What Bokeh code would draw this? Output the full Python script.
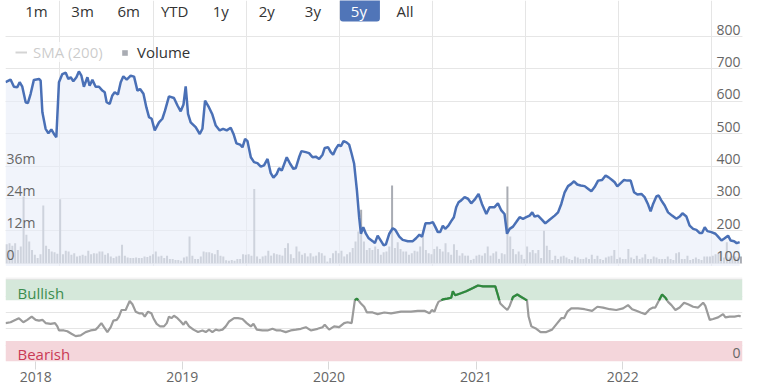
import numpy as np
import pandas as pd
from datetime import datetime
from bokeh.plotting import figure
from bokeh.layouts import column
from bokeh.models import (Range1d, FixedTicker, Label, BoxAnnotation, Legend,
                          LegendItem, Span, Grid)
from bokeh.core.properties import value
from bokeh.embed import file_html
from bokeh.resources import INLINE

FONT = "Open Sans"

# ---------------- data ----------------
# share price (decimal-year dates)
price_t = [2017.795, 2017.829, 2017.852, 2017.875, 2017.891, 2017.909, 2017.932, 2017.947, 2017.966, 2017.988,
           2018.023, 2018.034, 2018.046, 2018.068, 2018.087, 2018.107, 2018.125, 2018.141, 2018.159, 2018.182,
           2018.205, 2018.223, 2018.239, 2018.257, 2018.278, 2018.295, 2018.312, 2018.329, 2018.353, 2018.368,
           2018.387, 2018.409, 2018.432, 2018.455, 2018.471, 2018.484, 2018.505, 2018.523, 2018.539, 2018.561,
           2018.580, 2018.598, 2018.621, 2018.648, 2018.671, 2018.694, 2018.712, 2018.735, 2018.755, 2018.773,
           2018.791, 2018.812, 2018.841, 2018.864, 2018.882, 2018.909, 2018.943, 2018.967, 2018.989, 2019.008,
           2019.023, 2019.039, 2019.057, 2019.091, 2019.119, 2019.137, 2019.155, 2019.182, 2019.205, 2019.228,
           2019.255, 2019.278, 2019.303, 2019.330, 2019.349, 2019.369, 2019.394, 2019.410, 2019.428, 2019.444,
           2019.467, 2019.489, 2019.512, 2019.535, 2019.557, 2019.581, 2019.603, 2019.621, 2019.644, 2019.660,
           2019.678, 2019.712, 2019.735, 2019.758, 2019.774, 2019.796, 2019.812, 2019.842, 2019.864, 2019.888,
           2019.910, 2019.933, 2019.956, 2019.971, 2019.994, 2020.012, 2020.028, 2020.046, 2020.065, 2020.081,
           2020.099, 2020.119, 2020.137, 2020.154, 2020.171, 2020.190, 2020.205, 2020.217, 2020.233, 2020.251,
           2020.268, 2020.297, 2020.312, 2020.331, 2020.349, 2020.372, 2020.387, 2020.410, 2020.433, 2020.451,
           2020.478, 2020.501, 2020.536, 2020.570, 2020.592, 2020.615, 2020.633, 2020.656, 2020.683, 2020.706,
           2020.722, 2020.740, 2020.756, 2020.774, 2020.790, 2020.812, 2020.831, 2020.849, 2020.865, 2020.881,
           2020.899, 2020.922, 2020.945, 2020.967, 2020.990, 2021.017, 2021.040, 2021.070, 2021.092, 2021.126,
           2021.149, 2021.172, 2021.194, 2021.211, 2021.229, 2021.252, 2021.274, 2021.297, 2021.320, 2021.342,
           2021.365, 2021.383, 2021.399, 2021.422, 2021.450, 2021.472, 2021.501, 2021.536, 2021.559, 2021.581,
           2021.604, 2021.627, 2021.649, 2021.668, 2021.690, 2021.713, 2021.740, 2021.763, 2021.786, 2021.808,
           2021.832, 2021.859, 2021.883, 2021.904, 2021.927, 2021.945, 2021.963, 2021.986, 2022.009, 2022.031,
           2022.054, 2022.077, 2022.100, 2022.127, 2022.149, 2022.173, 2022.190, 2022.207, 2022.229, 2022.245,
           2022.263, 2022.286, 2022.309, 2022.336, 2022.366, 2022.388, 2022.407, 2022.434, 2022.456, 2022.480,
           2022.502, 2022.525, 2022.541, 2022.559, 2022.577, 2022.604, 2022.632, 2022.650, 2022.673, 2022.695,
           2022.718, 2022.736, 2022.759, 2022.777, 2022.797]
price = [659, 667, 645, 643, 659, 645, 597, 594, 623, 666,
         669, 664, 566, 515, 501, 513, 499, 489, 659, 684,
         688, 669, 674, 662, 674, 692, 679, 645, 674, 648,
         666, 645, 645, 633, 628, 597, 592, 618, 628, 621,
         659, 677, 667, 679, 676, 633, 638, 623, 581, 551,
         546, 510, 535, 546, 571, 615, 610, 587, 569, 590,
         646, 561, 535, 520, 499, 515, 602, 581, 559, 525,
         510, 515, 510, 518, 499, 470, 466, 458, 484, 477,
         427, 412, 409, 398, 402, 422, 378, 364, 376, 393,
         386, 427, 407, 391, 394, 427, 446, 443, 440, 427,
         429, 422, 435, 456, 458, 443, 435, 453, 466, 461,
         477, 473, 466, 438, 407, 324, 242, 191, 211, 191,
         178, 168, 162, 185, 172, 155, 158, 191, 208, 203,
         182, 172, 168, 168, 177, 188, 182, 223, 223, 227,
         213, 196, 196, 216, 206, 216, 230, 242, 273, 288,
         294, 304, 299, 285, 296, 314, 283, 252, 273, 273,
         285, 263, 252, 191, 206, 213, 227, 242, 237, 242,
         247, 257, 244, 247, 234, 223, 234, 247, 257, 283,
         319, 338, 345, 353, 343, 340, 338, 330, 322, 335,
         355, 357, 371, 365, 357, 350, 337, 347, 357, 355,
         355, 319, 312, 314, 304, 281, 260, 283, 306, 309,
         294, 278, 257, 247, 237, 244, 254, 244, 216, 206,
         203, 193, 193, 211, 199, 196, 191, 182, 170, 177,
         185, 170, 168, 162, 165]

# weekly volume (millions)
volume_start = "2017-10-21"
volume = [7.0, 7.4, 6.5, 7.4, 4.9, 6.2, 24.7, 10.5, 8.0, 4.9,
          3.1, 1.9, 3.3, 21.4, 6.5, 5.3, 4.3, 4.1, 3.5, 23.7,
          3.3, 4.6, 4.3, 3.1, 3.7, 2.5, 2.8, 3.1, 2.8, 4.6,
          3.3, 3.7, 3.6, 4.3, 4.3, 3.1, 3.7, 2.5, 1.9, 2.5,
          2.8, 6.8, 2.8, 2.1, 1.9, 1.9, 2.1, 1.9, 1.9, 2.5,
          2.3, 2.8, 3.3, 4.3, 2.5, 2.8, 1.9, 2.8, 1.6, 1.6,
          1.2, 1.2, 0.9, 2.1, 2.5, 9.9, 2.8, 1.6, 1.6, 2.5,
          4.3, 4.1, 4.1, 3.7, 3.3, 4.9, 2.8, 2.5, 1.1, 0.9,
          1.2, 0.9, 1.6, 1.6, 3.3, 3.1, 3.3, 2.8, 27.5, 2.5,
          1.6, 2.5, 2.8, 4.6, 2.8, 3.7, 3.3, 3.1, 2.8, 5.6,
          7.4, 3.3, 1.9, 6.2, 4.3, 3.1, 3.7, 2.5, 3.7, 2.5,
          2.8, 4.1, 3.7, 2.8, 0.6, 1.9, 3.7, 4.6, 3.7, 4.6,
          2.5, 3.3, 4.1, 5.6, 8.0, 11.7, 19.8, 8.0, 4.9, 5.6,
          4.9, 6.2, 5.3, 3.1, 4.1, 4.3, 6.2, 28.8, 5.6, 7.8,
          5.3, 4.3, 4.3, 3.1, 3.7, 4.6, 4.3, 6.2, 9.9, 4.9,
          3.7, 3.3, 5.3, 6.2, 5.3, 4.3, 7.4, 4.1, 3.1, 7.0,
          4.9, 2.8, 3.7, 2.8, 2.8, 1.2, 1.6, 2.8, 3.1, 2.8,
          3.7, 6.2, 2.8, 3.7, 4.3, 1.6, 3.7, 3.3, 28.4, 9.9,
          5.3, 3.3, 4.3, 3.1, 1.6, 6.2, 4.1, 4.9, 3.7, 4.9,
          1.9, 12.0, 6.5, 4.9, 1.2, 2.8, 1.6, 2.5, 2.8, 2.1,
          1.6, 1.2, 2.5, 2.1, 1.6, 1.6, 2.1, 1.6, 3.1, 1.6,
          2.8, 1.6, 1.2, 2.1, 2.5, 2.8, 4.9, 1.6, 2.1, 1.6,
          1.6, 5.3, 2.1, 1.6, 2.8, 1.6, 2.1, 3.3, 1.6, 1.6,
          2.5, 2.1, 1.6, 1.6, 1.6, 2.5, 1.6, 1.2, 3.7, 4.1,
          1.6, 1.6, 2.8, 1.2, 1.6, 2.1, 1.6, 1.2, 2.5, 2.5,
          2.5, 2.8, 3.3, 3.7, 4.3, 2.1, 7.8, 2.1, 2.8, 2.5,
          2.1, 2.5]

# StockRank (decimal-year dates)
rank_t = [2017.795, 2017.829, 2017.864, 2017.886, 2017.916, 2017.943, 2017.973, 2018.000, 2018.023, 2018.046,
          2018.068, 2018.102, 2018.132, 2018.148, 2018.159, 2018.193, 2018.216, 2018.244, 2018.273, 2018.307,
          2018.341, 2018.375, 2018.409, 2018.425, 2018.448, 2018.466, 2018.489, 2018.512, 2018.530, 2018.553,
          2018.568, 2018.585, 2018.614, 2018.626, 2018.641, 2018.660, 2018.682, 2018.705, 2018.728, 2018.744,
          2018.766, 2018.789, 2018.803, 2018.825, 2018.848, 2018.875, 2018.894, 2018.909, 2018.926, 2018.943,
          2018.967, 2018.989, 2019.008, 2019.023, 2019.046, 2019.076, 2019.107, 2019.137, 2019.160, 2019.182,
          2019.205, 2019.228, 2019.250, 2019.274, 2019.296, 2019.319, 2019.353, 2019.380, 2019.410, 2019.439,
          2019.467, 2019.485, 2019.508, 2019.546, 2019.581, 2019.615, 2019.644, 2019.671, 2019.705, 2019.739,
          2019.774, 2019.808, 2019.842, 2019.876, 2019.922, 2019.956, 2019.971, 2020.001, 2020.035, 2020.069,
          2020.103, 2020.126, 2020.154, 2020.176, 2020.190, 2020.217, 2020.239, 2020.258, 2020.297, 2020.331,
          2020.376, 2020.422, 2020.490, 2020.558, 2020.604, 2020.649, 2020.683, 2020.699, 2020.717, 2020.729,
          2020.744, 2020.774, 2020.804, 2020.831, 2020.842, 2020.858, 2020.888, 2020.933, 2020.979, 2021.013,
          2021.047, 2021.092, 2021.131, 2021.149, 2021.165, 2021.188, 2021.213, 2021.229, 2021.252, 2021.281,
          2021.308, 2021.336, 2021.347, 2021.358, 2021.377, 2021.411, 2021.440, 2021.479, 2021.518, 2021.554,
          2021.581, 2021.600, 2021.622, 2021.649, 2021.695, 2021.740, 2021.791, 2021.827, 2021.866, 2021.911,
          2021.956, 2022.002, 2022.036, 2022.064, 2022.093, 2022.122, 2022.154, 2022.184, 2022.207, 2022.222,
          2022.245, 2022.268, 2022.291, 2022.309, 2022.332, 2022.359, 2022.388, 2022.418, 2022.445, 2022.480,
          2022.514, 2022.548, 2022.563, 2022.593, 2022.616, 2022.650, 2022.684, 2022.700, 2022.729, 2022.763,
          2022.791, 2022.804]
rank = [47, 48, 51, 53, 48, 51, 55, 51, 50, 51,
        47, 46, 47, 43, 38, 38, 37, 34, 31, 32,
        36, 38, 39, 42, 47, 42, 36, 42, 50, 51,
        55, 63, 63, 68, 74, 70, 61, 59, 59, 55,
        61, 59, 53, 46, 43, 43, 47, 55, 53, 56,
        53, 49, 45, 49, 43, 39, 36, 38, 36, 39,
        36, 39, 38, 39, 43, 49, 53, 53, 52, 47,
        43, 46, 39, 38, 38, 40, 38, 38, 36, 38,
        39, 40, 42, 38, 40, 42, 45, 39, 43, 42,
        47, 48, 47, 75, 77, 71, 67, 60, 60, 58,
        60, 59, 61, 61, 62, 62, 59, 63, 61, 67,
        73, 76, 77, 78, 86, 81, 83, 86, 90, 93,
        92, 92, 92, 81, 71, 67, 63, 68, 79, 82,
        79, 76, 75, 55, 43, 40, 36, 36, 39, 47,
        53, 53, 61, 65, 65, 64, 62, 67, 66, 64,
        63, 65, 69, 64, 62, 60, 58, 64, 66, 66,
        74, 82, 78, 73, 69, 63, 66, 72, 70, 67,
        66, 72, 68, 51, 52, 54, 58, 54, 55, 55,
        56, 55]

price_ticks = [100, 200, 300, 400, 500, 600, 700, 800]
price_tick_labels = ["100", "200", "300", "400", "500", "600", "700", "800"]
volume_ticks = [0, 12, 24, 36]
volume_tick_labels = ["0", "12m", "24m", "36m"]
year_ticks = [2018, 2019, 2020, 2021, 2022]
year_labels = ["2018", "2019", "2020", "2021", "2022"]
range_buttons = ["1m", "3m", "6m", "YTD", "1y", "2y", "3y", "5y", "All"]
selected_button = "5y"
bullish_band = (75, 100)
bearish_band = (0, 25)
sma_window = "200D"
view_start = datetime(2017, 10, 18)
view_end = datetime(2022, 10, 26)

# ---------------- helpers ----------------
def to_ms(d):
    return pd.Timestamp(d).value / 1e6

def dec_year_dates(ts):
    out = []
    for v in ts:
        y = int(np.floor(v))
        a = pd.Timestamp(year=y, month=1, day=1)
        b = pd.Timestamp(year=y + 1, month=1, day=1)
        out.append(a + (b - a) * (v - y))
    return pd.DatetimeIndex(out)

price_dates = dec_year_dates(price_t)
price_x = [d.value / 1e6 for d in price_dates]
rank_x = [d.value / 1e6 for d in dec_year_dates(rank_t)]
vol_x = [d.value / 1e6 for d in pd.date_range(volume_start, periods=len(volume), freq="7D")]
year_ms = [to_ms(datetime(y, 1, 1)) for y in year_ticks]
x0, x1 = to_ms(view_start), to_ms(view_end)
sma = pd.Series(price, index=price_dates).rolling(sma_window).mean().tolist()

# ---------------- layout constants ----------------
W = 770
LEFT = 5
RIGHT = 28
H1 = 266
H2 = 118
TOP800_PX = 36      # px from top of frame to the 800 line
BOT100_PX = 262.7   # px from top of frame to the 100 line
scale = (BOT100_PX - TOP800_PX) / (price_ticks[-1] - price_ticks[0])
y_end = price_ticks[-1] + TOP800_PX / scale
y_start = price_ticks[0] - (H1 - BOT100_PX) / scale
VOL_PER_UNIT = 12 / 100.0   # 12m per 100 price units (shared gridlines)

BLUE = "#4a70b6"
GRID = "#e6e6e6"
BAR = "#a9acb3"
LABEL = "#666666"

# ---------------- price panel ----------------
p1 = figure(width=W, height=H1, x_range=Range1d(x0, x1), y_range=Range1d(y_start, y_end),
            x_axis_location=None, y_axis_location=None, toolbar_location=None,
            output_backend="svg", min_border_left=LEFT, min_border_right=RIGHT,
            min_border_top=0, min_border_bottom=0, outline_line_color=None)
p1.extra_y_ranges = {"vol": Range1d((y_start - 100) * VOL_PER_UNIT, (y_end - 100) * VOL_PER_UNIT)}
p1.add_layout(Grid(dimension=1, ticker=FixedTicker(ticks=price_ticks),
                   grid_line_color=GRID, grid_line_width=1))

bars = p1.vbar(x=vol_x, top=volume, bottom=0, width=5 * 86400000, y_range_name="vol",
               fill_color=BAR, line_color=None)
p1.varea(x=price_x, y1=price, y2=y_start, fill_color="#e8ecf8", fill_alpha=0.6)
p1.line(price_x, price, line_color=BLUE, line_width=2.5)
sma_line = p1.line(price_x, sma, line_color="#555555", line_width=2, visible=False)

# axis labels inside the plot (text centred on anchor; negative y_offset = up)
p1.text(x=[x1] * len(price_ticks), y=price_ticks, text=price_tick_labels,
        text_align="right", text_baseline="alphabetic", x_offset=-2, y_offset=-7,
        text_font=value(FONT), text_font_size="14px", text_color=LABEL)
p1.text(x=[x0] * len(volume_ticks), y=volume_ticks, text=volume_tick_labels,
        y_range_name="vol", text_align="left", text_baseline="alphabetic",
        x_offset=1, y_offset=-8, text_font=value(FONT), text_font_size="14px",
        text_color=LABEL)

# legend (SMA series hidden, shown greyed out)
leg1 = Legend(items=[LegendItem(label="SMA (200)", renderers=[sma_line])], location=(10, 204),
              orientation="horizontal", label_text_color="#333333", label_text_font=FONT,
              label_text_font_size="15px", glyph_width=12, glyph_height=20, label_standoff=6,
              padding=0, margin=0, border_line_color=None, background_fill_alpha=0, spacing=0,
              click_policy="hide", inactive_fill_color="white", inactive_fill_alpha=0.75)
leg2 = Legend(items=[LegendItem(label="Volume", renderers=[bars])], location=(116, 204),
              orientation="horizontal", label_text_color="#333333", label_text_font=FONT,
              label_text_font_size="15px", glyph_width=7, glyph_height=7, label_standoff=9,
              padding=0, margin=0, border_line_color=None, background_fill_alpha=0, spacing=0)
p1.add_layout(leg1)
p1.add_layout(leg2)

# range selector buttons
for i, b in enumerate(range_buttons):
    cx = 31 + 46.06 * i
    if b == selected_button:
        p1.add_layout(BoxAnnotation(left=cx - 19, right=cx + 21, bottom=H1 - 21, top=H1 + 4,
                                    left_units="screen", right_units="screen",
                                    bottom_units="screen", top_units="screen",
                                    fill_color="#5075b8", fill_alpha=1, line_color=None,
                                    border_radius=3))
    p1.add_layout(Label(x=cx, y=H1 - 10, x_units="screen", y_units="screen", text=b,
                        text_align="center", text_baseline="middle", text_font=FONT,
                        text_font_size="15px",
                        text_color="#ffffff" if b == selected_button else "#333333"))

p1.add_layout(Label(x=752, y=H1 - 150, x_units="screen", y_units="screen",
                    text="Share Price", angle=-np.pi / 2, text_align="center",
                    text_baseline="middle", text_font=FONT, text_font_size="15px",
                    text_color="#555555"))

# ---------------- StockRank panel ----------------
R_TOP = 102.8
p2 = figure(width=W, height=H2, x_range=p1.x_range, y_range=Range1d(0, R_TOP),
            x_axis_type="datetime", y_axis_location=None, toolbar_location=None,
            output_backend="svg", min_border_left=LEFT, min_border_right=RIGHT,
            min_border_top=11, min_border_bottom=22, outline_line_color=None)
p2.xgrid.visible = False
p2.add_layout(BoxAnnotation(bottom=bullish_band[0], top=bullish_band[1], fill_color="#d5e8da",
                            fill_alpha=1, line_color=None, level="underlay"))
p2.add_layout(BoxAnnotation(bottom=bearish_band[0], top=bearish_band[1], fill_color="#f4d6db",
                            fill_alpha=1, line_color=None, level="underlay"))
p2.add_layout(Span(location=R_TOP - 0.6, dimension="width", line_color=GRID, line_width=1))

ax = p2.xaxis[0]
ax.ticker = FixedTicker(ticks=year_ms)
ax.major_label_overrides = {m: s for m, s in zip(year_ms, year_labels)}
ax.axis_line_color = None
ax.major_tick_in = 0
ax.major_tick_out = 8
ax.major_tick_line_color = "#d9d9d9"
ax.minor_tick_line_color = None
ax.major_label_standoff = 2
ax.major_label_text_font = FONT
ax.major_label_text_font_size = "14px"
ax.major_label_text_color = LABEL

p2.text(x=[x0], y=[bullish_band[0]], text=["Bullish"], text_align="left",
        text_baseline="alphabetic", x_offset=12, y_offset=-7, text_font=value(FONT),
        text_font_size="15px", text_color="#3b8d4e")
p2.text(x=[x0], y=[bearish_band[0]], text=["Bearish"], text_align="left",
        text_baseline="alphabetic", x_offset=12, y_offset=-8, text_font=value(FONT),
        text_font_size="15px", text_color="#c93a55")
p2.text(x=[x1], y=[0], text=["0"], text_align="right", text_baseline="alphabetic",
        x_offset=-2, y_offset=-9, text_font=value(FONT), text_font_size="14px",
        text_color=LABEL)

# rank line: grey, with the part inside the bullish band in green
p2.line(rank_x, rank, line_color="#9b9b9b", line_width=2.2)
T = bullish_band[0]
gx, gy = [], []
for i in range(len(rank)):
    gx.append(rank_x[i]); gy.append(rank[i])
    if i + 1 < len(rank):
        a, b = rank[i], rank[i + 1]
        if (a - T) * (b - T) < 0:
            f = (T - a) / (b - a)
            gx.append(rank_x[i] + f * (rank_x[i + 1] - rank_x[i])); gy.append(T)
gy = [v if v >= T - 1e-9 else np.nan for v in gy]
p2.line(gx, gy, line_color="#2d8a3c", line_width=2.2)

p2.add_layout(Label(x=752, y=50, x_units="screen", y_units="data",
                    text="StockRank", angle=-np.pi / 2, text_align="center",
                    text_baseline="middle", text_font=FONT, text_font_size="15px",
                    text_color="#555555"))

layout = column(p1, p2, spacing=0)
open("out.html", "w").write(file_html(layout, INLINE))
